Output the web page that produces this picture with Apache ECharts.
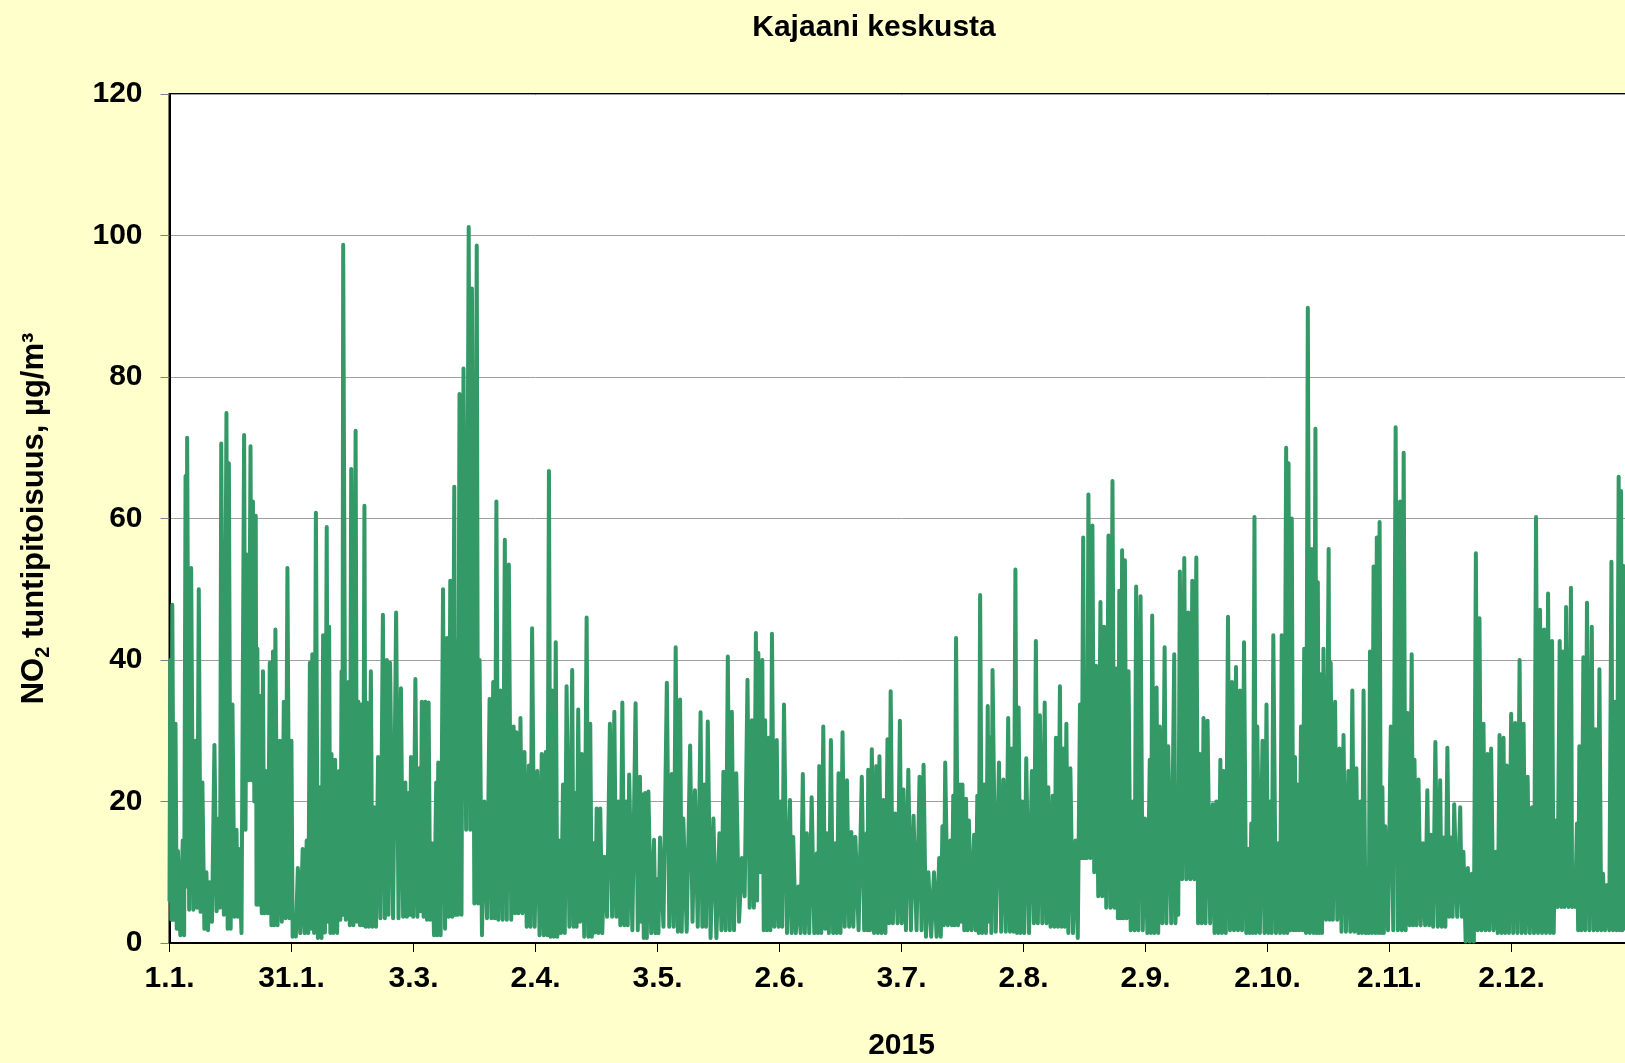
<!DOCTYPE html>
<html lang="fi">
<head>
    <meta charset="UTF-8">
    <title>Kajaani keskusta</title>
    <script src="https://cdn.jsdelivr.net/npm/echarts@6/dist/echarts.min.js"></script>
    <style>
        html, body {
            margin: 0;
            padding: 0;
            background: #ffffcc;
            overflow: hidden;
        }

        #chart {
            width: 1640px;
            height: 1063px;
        }
    </style>
</head>
<body>
    <div id="chart"></div>

    <script>
        // x-akselin merkinnät (tick joka 730. tunti)
        var tickLabels = ['1.1.', '31.1.', '3.3.', '2.4.', '3.5.', '2.6.', '3.7.', '2.8.', '2.9.', '2.10.', '2.11.', '2.12.'];

        // huippujen ajankohdat (päivää vuoden alusta)
        var days = [
            0.2,0.7,1.5,2.1,3.3,4.0,4.4,5.4,6.5,7.3,
            8.2,9.2,10.0,11.2,12.3,12.9,14.2,14.8,15.7,16.7,
            17.3,18.6,19.3,20.2,20.8,21.5,21.9,22.7,23.3,24.0,
            25.0,25.8,26.4,27.5,28.5,29.4,30.4,31.0,32.0,33.2,
            34.2,35.0,35.6,36.5,37.5,38.3,39.2,39.8,40.4,41.3,
            42.3,42.9,43.3,44.6,45.3,46.4,47.1,47.9,48.6,49.2,
            50.2,51.0,52.0,53.2,54.2,55.0,56.5,57.7,58.8,59.6,
            60.2,61.3,62.3,62.9,63.8,64.6,65.4,66.5,67.0,68.2,
            69.2,70.0,71.0,71.5,72.3,73.3,74.6,75.4,76.6,77.3,
            78.5,79.8,80.7,81.5,82.5,83.6,84.6,85.8,86.5,87.5,
            88.5,89.6,90.4,91.7,92.8,93.8,94.6,95.4,96.3,97.1,
            98.1,99.0,100.4,101.1,101.9,102.8,104.0,104.9,105.7,106.5,
            107.4,108.4,109.8,110.9,111.9,112.9,113.9,114.6,116.2,117.3,
            117.9,118.6,119.4,120.8,121.5,122.3,124.0,125.2,126.2,127.3,
            128.1,129.8,131.0,132.4,133.3,134.2,135.6,137.1,138.1,139.2,
            140.2,141.3,142.7,144.1,145.2,146.2,146.8,147.8,148.5,149.4,
            150.2,151.4,152.3,153.2,154.7,155.5,156.8,157.9,158.9,160.1,
            161.4,162.0,163.0,163.9,164.9,166.0,166.8,167.8,168.9,170.0,
            171.0,172.6,173.8,174.2,175.1,176.2,177.0,178.0,179.0,179.8,
            180.9,182.1,183.0,184.2,185.5,187.0,188.0,189.2,190.6,191.9,
            192.7,193.4,194.7,195.4,196.1,197.1,197.7,198.6,199.3,200.6,
            201.4,202.1,203.1,204.0,204.6,205.2,206.8,207.9,209.1,210.0,
            210.9,211.7,212.6,213.6,215.0,216.0,217.0,218.2,219.1,220.2,
            221.0,222.0,222.8,223.6,224.6,225.9,227.0,227.8,228.4,229.1,
            230.1,231.0,232.1,233.0,234.1,235.1,236.1,236.8,237.5,238.2,
            239.1,240.2,241.0,242.1,243.2,244.4,245.0,246.1,246.9,248.1,
            249.0,250.5,251.1,251.9,253.0,254.0,255.0,256.0,256.9,257.8,
            258.8,260.1,261.0,262.0,262.8,263.9,264.9,265.9,266.9,267.9,
            269.0,269.7,270.5,271.2,272.5,273.5,274.4,275.2,276.5,277.3,
            278.4,279.0,279.8,280.6,281.2,282.1,282.9,283.8,284.8,285.7,
            286.3,
            287.0,287.7,289.0,289.5,290.6,291.7,292.7,293.9,294.9,295.9,
            296.9,297.7,298.7,299.3,300.2,301.0,301.7,302.4,303.1,304.5,
            305.7,306.8,307.7,308.7,309.7,310.4,311.4,312.5,313.6,314.5,
            315.6,316.8,317.6,318.6,319.5,320.3,321.8,322.6,323.7,324.7,
            325.7,326.6,327.6,328.6,329.5,330.7,331.6,332.6,333.4,334.5,
            335.5,336.6,337.6,338.6,339.7,340.7,341.7,342.7,343.7,344.7,
            345.5,346.6,347.4,348.2,349.4,350.0,350.9,351.5,352.5,353.4,
            354.6,355.5,356.5,357.4,358.4,359.5,360.3,361.3,361.9,362.5,
            363.3,364.2
        ];

        // tuntipitoisuuden huiput, µg/m³
        var peaks = [
            40,47.8,31,13,14.5,66,71.4,53,28.6,50,
            22.7,10,8.6,28,17.6,70.6,74.9,67.8,33.7,16,
            13.3,71.8,54.9,70.2,62.4,60.4,41.6,34.9,38.4,24.3,
            39.6,41.2,44.3,28.6,34.1,53,28.6,4,10.6,13.3,
            14.5,39.6,40.8,60.8,22,43.5,58.8,44.7,26.7,25.9,
            24.3,38.4,98.7,36.9,67,72.4,34.1,33.7,61.8,34,
            38.4,19.2,26.3,46.4,40,39.6,46.7,36,22.7,21.2,
            26.3,37.3,24.7,34.1,34.1,34,14.1,22.7,25.5,50,
            43.1,51.2,64.5,42.7,77.6,81.2,101.2,92.5,98.6,40,
            20,34.5,36.9,62.4,35.7,57,53.5,30.6,29.8,31.8,
            27,25.1,44.5,24.3,26.7,27,66.7,35.7,42.5,14.5,
            22.4,36.3,38.6,21.2,33,26.7,46,31,14.1,19,
            19,12.2,31,32.7,20,34,20,23.8,33.9,23.5,
            21,21.2,21.4,14.6,9,14.9,36.8,23.9,41.8,34.4,
            17.6,27.9,21.6,32.6,22.4,31.3,17.6,15.5,24.2,40.5,
            32.7,24,12,37.2,31.5,43.8,41,40,31.5,29,
            43.7,28.7,20,33.7,20.2,15,8,23.9,15.5,20.6,
            12.7,25,30.6,15.5,28.7,14.1,24,29.8,23,15.7,
            15,23.5,15.5,24.5,27.4,25,26.4,20.2,28.8,35.6,
            18.3,31.4,21.7,24.5,18,23.5,25.2,10,10,12,
            16.5,25.5,14.5,20.8,43.1,22.4,22.4,20.4,17.3,15.3,
            20.8,49.2,22.4,33.5,29,38.6,25.5,23.1,31.8,27.5,
            52.8,33.3,20,26.1,24.3,42.7,32.2,34,22,20.8,
            29,36.3,27.5,31,24.7,14.5,33.7,57.3,35.7,63.4,
            59,39.2,48.2,44.7,57.6,65.3,38.8,49.8,55.5,54.1,
            38.4,20,50.4,49,17.6,25.9,46.3,36.1,30.6,41.8,
            27.8,40.8,11,52.5,54.4,46.7,51.2,54.5,26.7,31.8,
            31.4,19.6,20,25.9,24.3,46.1,36.9,39,35.7,42.5,
            13.3,16.9,60.2,30.6,28.6,33.7,20,43.5,14.1,43.5,
            70,67.8,60,26.3,22.4,30.6,41.6,89.8,55.7,72.7,
            51,
            38,41.6,55.7,39.6,34.1,27.5,29.4,24.3,35.7,24.7,
            20,35.7,10.6,41.2,53.2,57.3,59.5,22,16.5,30.6,
            72.9,62.4,69.3,32.5,40.8,25.9,23.1,14.1,21.6,15.3,
            28.4,23,14.9,27.6,14.9,19.6,19.2,12.9,10.6,9.8,
            55.1,45.9,31,26.7,27.5,12.9,29.4,29,25.1,32.4,
            31.1,40,31,23.5,19.2,60.2,47.1,44.3,49.4,42.7,
            17.3,42.7,41.2,47.5,50.2,5.5,16.9,27.8,40.4,48.1,
            44.7,30.2,38.7,9.8,8.2,53.9,34.1,65.9,63.9,53.3,
            40,30
        ];

        // pohjalukemat ennen kutakin huippua, µg/m³
        var troughs = [
            6,3.3,3.3,2,1.1,1.1,8,4.7,4.7,5,
            4.4,2,1.8,3,4.5,5,4,2,2,3.7,
            3.7,1.4,16,23,23,20,5.4,5.4,4.2,4.2,
            4.2,2.5,2.5,2.5,3,3.5,3.5,0.9,0.9,1.4,
            1.4,1.4,2,1.4,0.7,0.7,1.5,3,1.4,1.4,
            1.4,3.3,4,3.3,2.5,2.5,3,2.5,2.5,2.3,
            2.3,2.3,2.3,3.5,3.5,4,3.5,3.5,3.7,3.7,
            4,3.7,3.7,4.5,3.7,3.3,3.3,1.1,1.1,1.1,
            2,3.7,3.7,4,4,4,16,16,5.6,5.6,
            1.1,3.5,3.5,3.5,3.3,3.3,3.3,3.3,4.2,4.2,
            4.2,2.3,2.3,2.3,1.1,1.1,1.1,0.9,0.9,0.9,
            1.4,1.4,2.3,2.3,2.3,3,0.9,0.9,0.9,1.5,
            1.4,1.4,3.7,3.7,3.7,2.5,2.5,2.5,1.8,1.8,
            3,0.7,0.7,1.4,1.4,1.4,2.3,2.3,2.3,1.6,
            1.6,1.6,3,2.3,2.3,2.3,0.7,0.7,1.8,1.8,
            1.8,1.8,3,6.6,5,5,6,10,1.8,1.8,
            1.8,2.3,2.3,2.3,1.4,1.4,1.4,1.4,1.4,1.4,
            1.4,1.4,1.4,2,1.4,1.4,1.4,1.4,2.3,2.3,
            2.3,1.8,1.8,1.8,1.8,1.4,1.4,1.4,1.4,2.8,
            2.8,2.8,2.8,1.8,1.8,1.8,1.8,0.9,0.9,0.9,
            0.9,2.5,2.5,2.5,2.5,2.5,3,1.8,1.8,1.8,
            1.8,1.4,1.4,1.4,3,1.4,1.6,1.6,1.6,1.6,
            1.6,1.4,1.4,1.4,1.4,2.8,2.8,2.8,2.8,2.3,
            2.3,2.3,2.3,2.3,1.4,1.4,0.7,12,12,12,
            12,10,6.6,6.6,5,5,5,3.5,3.5,3.5,
            3.5,1.8,1.8,1.8,1.8,1.4,1.4,1.4,1.4,2.8,
            2.8,2.8,2.8,4,9,9,9,9,2.8,2.8,
            2.8,2.8,1.4,1.4,1.4,1.4,1.8,1.8,1.8,1.8,
            1.4,1.4,1.4,1.4,1.4,1.4,1.4,1.4,1.4,1.4,
            1.4,1.4,1.8,1.8,1.8,1.8,1.8,1.4,1.4,1.4,
            1.4,
            1.4,1.4,3.3,3.3,3.3,3.3,1.6,1.6,1.6,1.6,
            1.4,1.4,1.4,1.4,1.4,1.4,1.4,1.4,1.4,1.8,
            1.8,1.8,1.8,1.8,2.5,2.5,2.5,2.5,2.5,2.5,
            2.3,2.3,2.3,2.3,3.7,3.7,3.7,3.7,0.2,0.2,
            0.2,1.8,1.8,1.8,1.8,1.8,1.4,1.4,1.4,1.4,
            1.4,1.4,1.4,1.4,1.4,1.4,1.4,1.4,1.4,1.4,
            1.4,5.1,5.1,5.1,5.1,5.1,5.1,1.8,1.8,1.8,
            1.8,1.8,1.8,1.8,1.8,1.8,1.8,1.8,1.8,1.8,
            2,2
        ];

        var tickStep = 730 / 24;
        var font = 'Liberation Sans';

        // pohja ensin, sitten huippu
        var lineData = [];
        var n = Math.min(days.length, peaks.length, troughs.length);
        for (var i = 0; i < n; i++) {
            var tx = i === 0 ? 0 : (days[i - 1] + days[i]) / 2;
            lineData.push([tx, troughs[i]]);
            lineData.push([days[i], peaks[i]]);
        }

        var chart = echarts.init(document.getElementById('chart'));
        chart.setOption({
            animation: false,
            backgroundColor: '#ffffcc',
            title: {
                text: 'Kajaani keskusta',
                left: 869,
                top: 8,
                textAlign: 'center',
                textStyle: { fontFamily: font, fontWeight: 'bold', fontSize: 30, color: '#000' }
            },
            grid: {
                left: 169.5,
                top: 94,
                right: 6.5,
                bottom: 120,
                containLabel: false,
                outerBoundsMode: 'none',
                show: true,
                backgroundColor: '#fff',
                borderColor: '#000',
                borderWidth: 2
            },
            xAxis: {
                type: 'value',
                min: 0,
                max: 365,
                interval: tickStep,
                name: '2015',
                nameLocation: 'middle',
                nameGap: 88,
                nameTextStyle: { fontFamily: font, fontWeight: 'bold', fontSize: 30, color: '#000' },
                axisLine: { lineStyle: { color: '#000', width: 2 } },
                axisTick: { show: true, length: 9, lineStyle: { color: '#000' } },
                axisLabel: {
                    margin: 21,
                    fontFamily: font,
                    fontWeight: 'bold',
                    fontSize: 30,
                    color: '#000',
                    formatter: function (v) {
                        return tickLabels[Math.round(v / tickStep)] || '';
                    }
                },
                splitLine: { show: false }
            },
            yAxis: {
                type: 'value',
                min: 0,
                max: 120,
                interval: 20,
                name: '{a|NO}{s|2}{a| tuntipitoisuus, µg/m³}',
                nameLocation: 'middle',
                nameRotate: 90,
                nameGap: 120,
                nameTextStyle: {
                    fontFamily: font,
                    fontWeight: 'bold',
                    fontSize: 31,
                    color: '#000',
                    rich: {
                        a: { fontFamily: font, fontWeight: 'bold', fontSize: 31, lineHeight: 31, color: '#000', verticalAlign: 'top' },
                        s: { fontFamily: font, fontWeight: 'bold', fontSize: 20, lineHeight: 20, color: '#000', verticalAlign: 'top', padding: [15, 0, 0, 0] }
                    }
                },
                axisLine: { show: true, lineStyle: { color: '#000', width: 2 } },
                axisTick: { show: true, length: 9, lineStyle: { color: '#808080' } },
                axisLabel: { margin: 27, fontFamily: font, fontWeight: 'bold', fontSize: 30, color: '#000' },
                splitLine: { lineStyle: { color: '#a0a0a0', width: 1 } }
            },
            series: [{
                type: 'line',
                data: lineData,
                symbol: 'none',
                silent: true,
                lineStyle: { color: '#339966', width: 4, cap: 'round', join: 'round' }
            }]
        });
    </script>
</body>
</html>
